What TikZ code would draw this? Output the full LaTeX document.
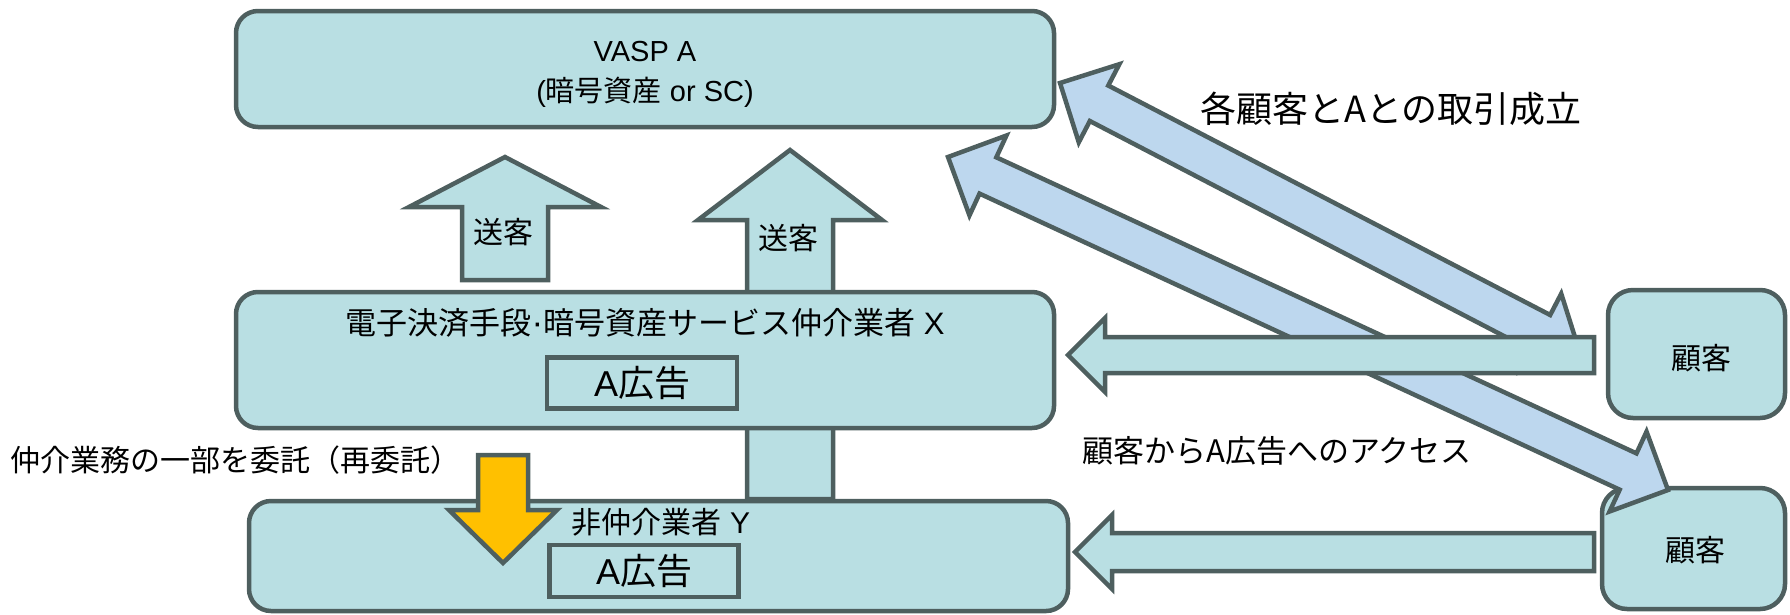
\documentclass[tikz,border=0pt]{standalone}
\usepackage{fontspec}
\setmainfont{Liberation Sans}
\newfontfamily\jp{Noto Sans CJK JP}
\usetikzlibrary{calc}
\definecolor{tl}{HTML}{B9DFE3}
\definecolor{bl}{HTML}{BDD7EE}
\definecolor{bd}{HTML}{4E5F5F}
\definecolor{og}{HTML}{FFC000}
\newcommand\fsz[1]{\fontsize{#1}{#1}\selectfont}
% style, tail, tip, shaft half width, head half width, head length
\newcommand\blockarrow[6]{%
  \coordinate (ba-h) at ($(#3)!#6!(#2)$);
  \draw[#1] ($(#2)!#4!90:(#3)$) -- ($(ba-h)!#4!90:(#3)$) -- ($(ba-h)!#5!90:(#3)$) -- (#3)
    -- ($(ba-h)!#5!-90:(#3)$) -- ($(ba-h)!#4!-90:(#3)$) -- ($(#2)!#4!-90:(#3)$) -- cycle;}
% style, end P, end Q, shaft half width, head half width, head length
\newcommand\dblarrow[6]{%
  \coordinate (da-p) at ($(#2)!#6!(#3)$);
  \coordinate (da-q) at ($(#3)!#6!(#2)$);
  \draw[#1] (#2) -- ($(da-p)!#5!90:(#3)$) -- ($(da-p)!#4!90:(#3)$) -- ($(da-q)!#4!90:(#3)$)
    -- ($(da-q)!#5!90:(#3)$) -- (#3) -- ($(da-q)!#5!-90:(#3)$) -- ($(da-q)!#4!-90:(#3)$)
    -- ($(da-p)!#4!-90:(#3)$) -- ($(da-p)!#5!-90:(#3)$) -- cycle;}
\tikzset{
  box/.style={draw=bd, fill=tl, line width=4.5pt, rounded corners=22pt, inner sep=0pt},
  adbox/.style={draw=bd, fill=tl, line width=4.5pt, inner sep=0pt, font=\fsz{36}},
  tarr/.style={draw=bd, fill=tl, line width=4.5pt},
  barr/.style={draw=bd, fill=bl, line width=4.5pt},
  oarr/.style={draw=bd, fill=og, line width=4.5pt},
  txt/.style={inner sep=0pt, font=\jp\fsz{30}},
}
\begin{document}
\begin{tikzpicture}[x=1pt,y=-1pt]
\useasboundingbox (0,0) rectangle (1790,614);
% boxes (back layer)
\node[box, minimum width=818pt, minimum height=116pt] (vasp) at (645,69) {};
\node[box, minimum width=819pt, minimum height=110pt] (Y) at (658.5,556) {};
% long sending arrow from Y to VASP (behind X)
\coordinate (s2tail) at (790,499);
\coordinate (s2tip) at (790,150);
\blockarrow{tarr}{s2tail}{s2tip}{43pt}{92pt}{70pt}
% short sending arrow from X to VASP
\coordinate (s1tail) at (505,280);
\coordinate (s1tip) at (505,157);
\blockarrow{tarr}{s1tail}{s1tip}{43pt}{96pt}{50pt}
\node[box, minimum width=818pt, minimum height=136pt] (X) at (645,360) {};
\node[adbox, minimum width=190pt, minimum height=51pt] (adX) at (642,383) {A{\jp 広告}};
\node[adbox, minimum width=189pt, minimum height=52pt] (adY) at (644,571) {A{\jp 広告}};
% delegation arrow
\coordinate (otail) at (503,455);
\coordinate (otip) at (503,563);
\blockarrow{oarr}{otail}{otip}{25pt}{54pt}{53pt}
% customers
\node[box, rounded corners=25pt, minimum width=177pt, minimum height=128pt] (c1) at (1696.5,354) {};
\node[box, rounded corners=25pt, minimum width=183pt, minimum height=121pt] (c2) at (1693.5,548.5) {};
% transaction double arrows
\coordinate (d1p) at (1060,83);
\coordinate (d1q) at (1580,353);
\dblarrow{barr}{d1p}{d1q}{20pt}{44pt}{44pt}
\coordinate (d2p) at (948,157);
\coordinate (d2q) at (1668,490);
\dblarrow{barr}{d2p}{d2q}{20pt}{44pt}{44pt}
% access arrows
\coordinate (h1tail) at (1594,355);
\coordinate (h1tip) at (1068,355);
\blockarrow{tarr}{h1tail}{h1tip}{18pt}{37pt}{37pt}
\coordinate (h2tail) at (1594,552);
\coordinate (h2tip) at (1075,552);
\blockarrow{tarr}{h2tail}{h2tip}{19pt}{37pt}{37pt}
% texts
\node[inner sep=0pt, font=\fsz{29}] (vaspT1) at (645,52) {VASP A};
\node[inner sep=0pt, font=\fsz{29}] (vaspT2) at (645,92) {({\jp 暗号資産} or SC)};
\node[txt, font=\jp\fsz{31}] (xT) at (645,323) {電子決済手段{\rmfamily\fsz{35}·}暗号資産サービス仲介業者{\rmfamily\ X}};
\node[txt] (yT) at (661,522) {非仲介業者{\rmfamily\ Y}};
\node[txt] (s1T) at (503,232) {送客};
\node[txt] (s2T) at (788,238) {送客};
\node[txt] (c1T) at (1701,358) {顧客};
\node[txt] (c2T) at (1695,550) {顧客};
\node[txt, anchor=west] (delT) at (10,460) {仲介業務の一部を委託（再委託）};
\node[txt, font=\jp\fsz{36}] (trT) at (1391,109) {各顧客とAとの取引成立};
\node[txt, font=\jp\fsz{31}] (acT) at (1277,451) {顧客からA広告へのアクセス};
\end{tikzpicture}
\end{document}
